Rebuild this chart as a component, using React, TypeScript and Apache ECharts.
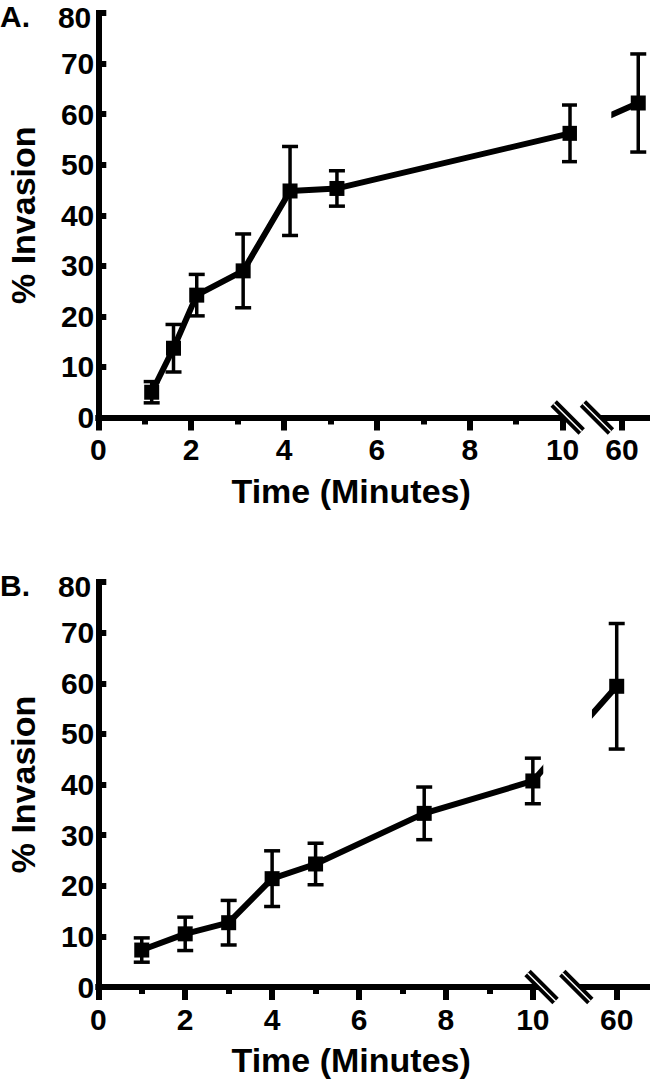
import React, { useEffect, useRef } from 'react';
import * as echarts from 'echarts';

// ---- data ----
const yTickValues = [0, 10, 20, 30, 40, 50, 60, 70, 80];
const xMajorTicks = [0, 2, 4, 6, 8, 10];
const xMinorTicks = [1, 3, 5, 7, 9];
const breakTimeLabel = 60;

// Panel A
const timeA = [1.15, 1.62, 2.12, 3.12, 4.13, 5.14, 10.16, 60.35];
const invasionA = [5.0, 13.7, 24.2, 29.0, 44.8, 45.3, 56.2, 62.2];
const errorA = [2.1, 4.7, 4.1, 7.3, 8.8, 3.5, 5.6, 9.7];

// Panel B
const timeB = [1, 2, 3, 4, 5, 7.5, 10, 60];
const invasionB = [7.3, 10.5, 12.7, 21.4, 24.3, 34.3, 40.7, 59.4];
const errorB = [2.4, 3.3, 4.4, 5.5, 4.1, 5.2, 4.5, 12.4];

const panelLabels = ['A.', 'B.'];
const yTitle = '% Invasion';
const xTitle = 'Time (Minutes)';

// ---- layout (not data) ----
const FONT = '"Liberation Sans", Arial, Helvetica, sans-serif';
const panels = [
  { top: 13, height: 404.5, xMax: 11.84, pos60: 11.28, breaks: [10.11, 10.74], lineGap: [10.31, 11.05], labelTop: 1 },
  { top: 582, height: 405, xMax: 12.65, pos60: 11.93, breaks: [10.2, 11.0], lineGap: [10.24, 11.36], labelTop: 570 },
];

const mapX = (t: number, p: any) => (t <= 10.5 ? t : p.pos60 + (t - breakTimeLabel));
const yTopValue = yTickValues[yTickValues.length - 1];
const yAxisLabelValues = yTickValues.slice(0, -1);

export default function App() {
  const ref = useRef<HTMLDivElement>(null);
  useEffect(() => {
    if (!ref.current) return;
    const chart = echarts.init(ref.current, null, { renderer: 'svg' });
    const datasets = [
      { t: timeA, v: invasionA, e: errorA },
      { t: timeB, v: invasionB, e: errorB },
    ];
    const grid: any[] = [];
    const xAxis: any[] = [];
    const yAxis: any[] = [];
    const series: any[] = [];
    const title: any[] = [];
    panels.forEach((p, gi) => {
      grid.push({ left: 98.3, width: 549.7, top: p.top, height: p.height, containLabel: false, outerBoundsMode: 'none' });
      const majors = [...xMajorTicks, p.pos60];
      xAxis.push({
        type: 'value', gridIndex: gi, min: 0, max: p.xMax, position: 'bottom',
        axisLine: { show: true, onZero: false, lineStyle: { color: '#000', width: 6, cap: 'square' } },
        axisTick: { show: true, customValues: majors, length: 13, lineStyle: { color: '#000', width: 6 } },
        axisLabel: {
          show: true, customValues: majors, margin: 17, color: '#000', fontSize: 30, fontWeight: 'bold', fontFamily: FONT,
          formatter: (v: number) => (Math.abs(v - p.pos60) < 1e-6 ? String(breakTimeLabel) : String(Math.round(v))),
        },
        splitLine: { show: false },
        name: xTitle, nameLocation: 'middle', nameGap: 56,
        nameTextStyle: { color: '#000', fontSize: 34, fontWeight: 'bold', fontFamily: FONT, padding: [0, 44, 0, 0] },
      });
      xAxis.push({
        type: 'value', gridIndex: gi, min: 0, max: p.xMax, position: 'bottom',
        axisLine: { show: false, onZero: false },
        axisTick: { show: true, customValues: xMinorTicks, length: 7, lineStyle: { color: '#000', width: 6 } },
        axisLabel: { show: false },
        splitLine: { show: false },
      });
      yAxis.push({
        type: 'value', gridIndex: gi, min: 0, max: yTopValue, interval: 10,
        axisLine: { show: true, onZero: false, lineStyle: { color: '#000', width: 6, cap: 'square' } },
        axisTick: { show: true, inside: true, length: 8, customValues: yTickValues, lineStyle: { color: '#000', width: 6 } },
        axisLabel: {
          show: true, margin: 4, color: '#000', fontSize: 30,
          fontWeight: 'bold', fontFamily: FONT, customValues: yAxisLabelValues,
        },
        splitLine: { show: false },
        name: yTitle, nameLocation: 'middle', nameGap: 58,
        nameTextStyle: { color: '#000', fontSize: 34, fontWeight: 'bold', fontFamily: FONT },
      });
      const d = datasets[gi];
      series.push({
        type: 'line', xAxisIndex: gi * 2, yAxisIndex: gi, z: 3,
        data: d.t.map((t, i) => [mapX(t, p), d.v[i]]),
        symbol: 'rect', symbolSize: 15,
        itemStyle: { color: '#000' },
        lineStyle: { color: '#000', width: 6 },
      });
      series.push({
        type: 'custom', xAxisIndex: gi * 2, yAxisIndex: gi, z: 4,
        data: d.t.map((t, i) => [mapX(t, p), d.v[i] - d.e[i], d.v[i] + d.e[i]]),
        encode: { x: 0, y: [1, 2] },
        renderItem: (params: any, api: any) => {
          const x = api.value(0);
          const lo = api.coord([x, api.value(1)]);
          const hi = api.coord([x, api.value(2)]);
          const hw = 8;
          const style = { stroke: '#000', lineWidth: 3.5, fill: 'none' };
          return {
            type: 'group',
            children: [
              { type: 'line', shape: { x1: lo[0], y1: lo[1], x2: hi[0], y2: hi[1] }, style },
              { type: 'line', shape: { x1: hi[0] - hw, y1: hi[1], x2: hi[0] + hw, y2: hi[1] }, style },
              { type: 'line', shape: { x1: lo[0] - hw, y1: lo[1], x2: lo[0] + hw, y2: lo[1] }, style },
            ],
          };
        },
      });
      title.push({
        text: panelLabels[gi], left: 0, top: p.labelTop, padding: 0,
        textStyle: { color: '#000', fontSize: 30, fontWeight: 'bold', fontFamily: FONT },
      });
    });

    chart.setOption({ animation: false, backgroundColor: '#fff', title, grid, xAxis, yAxis, series });

    const graphic: any[] = [];
    panels.forEach((p, gi) => {
      const px = (x: number, y: number) => chart.convertToPixel({ seriesIndex: gi * 2 }, [x, y]) as number[];
      const axisY = px(0, 0)[1];
      const topY = px(0, yTopValue)[1];
      const axisX = px(0, 0)[0];
      // top tick label, nudged down slightly as in the reference
      graphic.push({
        type: 'text', z: 10, x: axisX - 7, y: topY + 4,
        style: { text: String(yTopValue), fill: '#000', fontSize: 30, fontWeight: 'bold', fontFamily: FONT, align: 'right', verticalAlign: 'middle' },
      });
      const g0 = px(p.lineGap[0], 0)[0];
      const g1 = px(p.lineGap[1], 0)[0];
      graphic.push({ type: 'rect', z: 100, shape: { x: g0, y: topY - 12, width: g1 - g0, height: axisY - 4 - (topY - 12) }, style: { fill: '#fff' } });
      const b0 = px(p.breaks[0], 0)[0];
      const b1 = px(p.breaks[1], 0)[0];
      graphic.push({ type: 'rect', z: 100, shape: { x: b0, y: axisY - 5, width: b1 - b0, height: 10 }, style: { fill: '#fff' } });
      p.breaks.forEach((b) => {
        const cx = px(b, 0)[0];
        const shape = { x1: cx - 14, y1: axisY - 14, x2: cx + 14, y2: axisY + 14 };
        graphic.push({ type: 'line', z: 101, shape, style: { stroke: '#000', lineWidth: 9 } });
        graphic.push({ type: 'line', z: 102, shape, style: { stroke: '#fff', lineWidth: 1.5 } });
      });
    });
    chart.setOption({ graphic });

    return () => chart.dispose();
  }, []);
  return <div ref={ref} style={{ position: 'absolute', left: 0, top: 0, width: 650, height: 1092 }} />;
}
